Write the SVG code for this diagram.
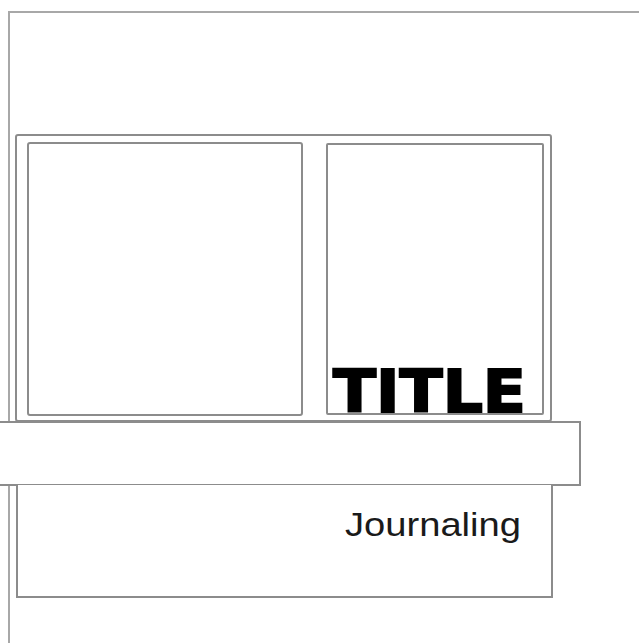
<svg xmlns="http://www.w3.org/2000/svg" width="639" height="643" viewBox="0 0 639 643">
<style>
.frame{fill:#fff;stroke:#8c8c8c;stroke-width:2}
.page{fill:none;stroke:#a8a8a8;stroke-width:2}
</style>
<rect x="0" y="0" width="639" height="643" fill="#fff"/>
<g id="page"><path class="page" d="M641,12 H9 V645"/></g>
<g id="photo-frame"><rect class="frame" x="16" y="135" width="535" height="286" rx="2"/></g>
<g id="photo-left"><rect class="frame" x="28" y="143" width="274" height="272" rx="2"/></g>
<g id="photo-right"><rect class="frame" x="327" y="144" width="216" height="270" rx="1"/>
<text x="333" y="412" textLength="193" lengthAdjust="spacingAndGlyphs" font-family="'DejaVu Sans', sans-serif" font-weight="bold" font-size="59" fill="#000" stroke="#000" stroke-width="2">TITLE</text></g>
<g id="band"><rect class="frame" x="-3" y="422" width="583" height="63"/></g>
<g id="journaling"><path class="frame" d="M17,485 V597 H552 V485"/>
<text x="345" y="536" textLength="176" lengthAdjust="spacingAndGlyphs" font-family="'Liberation Sans', Arial, sans-serif" font-size="34" fill="#1a1a1a">Journaling</text></g>
<g id="connectors"></g>
</svg>
